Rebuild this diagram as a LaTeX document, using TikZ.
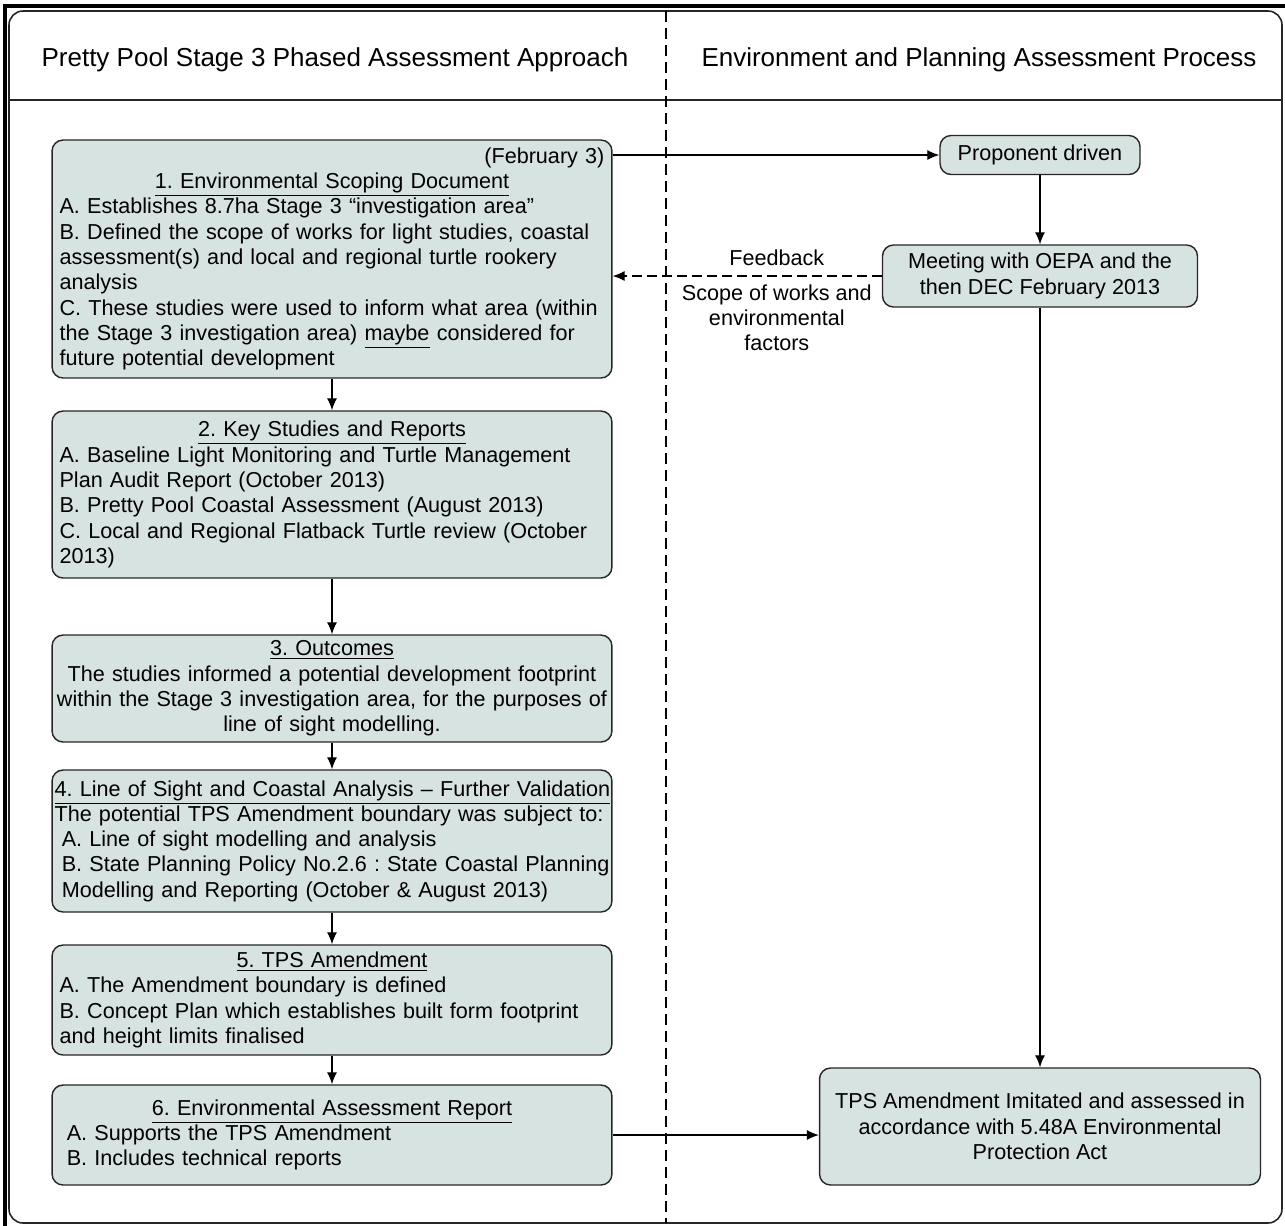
\documentclass[tikz,border=0pt]{standalone}
\usepackage{fontspec}
\setmainfont{Liberation Sans}
\usetikzlibrary{arrows.meta}
\definecolor{boxfill}{RGB}{215,227,225}
\newcommand{\boxfont}{\fontsize{12.3}{14.4}\selectfont}
\frenchspacing
\hyphenpenalty=10000
\exhyphenpenalty=10000
\begin{document}
\begin{tikzpicture}
    [%%%%%%%%%%%%%%%%%%%%%%%%%%%%%%
        x=0.02cm, y=-0.02cm,
        box/.style={rectangle, rounded corners=0.22cm, draw=black!85, line width=0.8pt, fill=boxfill, font=\boxfont, inner xsep=0.15cm, inner ysep=0pt},
        leftbox/.style={box, text width=10.9cm, align=left},
        rightbox/.style={box, align=center},
        heading/.style={font=\fontsize{14.8}{18}\selectfont},
        arr/.style={-{Latex[length=0.24cm,width=0.2cm]}, line width=0.7pt},
    ]%%%%%%%%%%%%%%%%%%%%%%%%%%%%%%
\useasboundingbox (0,0) rectangle (1285,1225);
\clip (0,0) rectangle (1285,1225);
\draw[line width=1.8pt] (5,6) rectangle (1300,1240);
\draw[rounded corners=0.28cm, line width=0.9pt, draw=black!85] (9,11) rectangle (1282,1223);
\draw[line width=0.9pt, draw=black!85] (9,100) -- (1282,100);
\draw[dash pattern=on 0.22cm off 0.12cm, line width=0.7pt] (666,11) -- (666,1223);
\node[heading] (lefthead) at (335,60) {Pretty Pool Stage 3 Phased Assessment Approach};
\node[heading] (righthead) at (979,60) {Environment and Planning Assessment Process};
\node[leftbox, minimum height=4.76cm] (b1) at (332,259) {\hfill(February 3)\\
\hfill\underline{1. Environmental Scoping Document}\hfill\null\\
A. Establishes 8.7ha Stage 3 “investigation area”\\
B. Defined the scope of works for light studies, coastal\\
assessment(s) and local and regional turtle rookery\\
analysis\\
C. These studies were used to inform what area (within\\
the Stage 3 investigation area) \underline{maybe} considered for\\
future potential development};
\node[leftbox, minimum height=3.34cm] (b2) at (332,494.5) {\hfill\underline{2. Key Studies and Reports}\hfill\null\\
A. Baseline Light Monitoring and Turtle Management\\
Plan Audit Report (October 2013)\\
B. Pretty Pool Coastal Assessment (August 2013)\\
C. Local and Regional Flatback Turtle review (October\\
2013)};
\node[box, text width=11.1cm, inner xsep=0.05cm, align=center, minimum height=2.14cm] (b3) at (332,688.5) {\underline{3. Outcomes}\\
The studies informed a potential development footprint\\
within the Stage 3 investigation area, for the purposes of\\
line of sight modelling.};
\node[leftbox, text width=11.1cm, inner xsep=0.05cm, minimum height=2.84cm] (b4) at (332,841) {\underline{4. Line of Sight and Coastal Analysis – Further Validation}\\
The potential TPS Amendment boundary was subject to:\\
\ A. Line of sight modelling and analysis\\
\mbox{\ B. State Planning Policy No.2.6 : State Coastal Planning}\\
\ Modelling and Reporting (October \& August 2013)};
\node[leftbox, minimum height=2.2cm] (b5) at (332,1000) {\hfill\underline{5. TPS Amendment}\hfill\null\\
A. The Amendment boundary is defined\\
B. Concept Plan which establishes built form footprint\\
and height limits finalised};
\node[leftbox, minimum height=2.0cm] (b6) at (332,1135) {\hfill\underline{6. Environmental Assessment Report}\hfill\null\\
\ A. Supports the TPS Amendment\\
\ B. Includes technical reports};
\node[rightbox, minimum width=4.0cm, minimum height=0.78cm] (prop) at (1040,155) {Proponent driven};
\node[rightbox, minimum width=6.3cm, minimum height=1.24cm] (meet) at (1040,276) {Meeting with OEPA and the\\then DEC February 2013};
\node[rightbox, minimum width=8.82cm, minimum height=2.34cm] (fin) at (1040,1126.5) {TPS Amendment Imitated and assessed in\\accordance with 5.48A Environmental\\Protection Act};
\draw[arr] (b1.east |- prop.west) -- (prop.west);
\draw[arr] (prop.south) -- (meet.north);
\draw[arr, dash pattern=on 0.2cm off 0.1cm] (meet.west) -- (meet.west -| b1.east)
    node[pos=0.39, above=0.08cm, font=\boxfont] {Feedback}
    node[pos=0.39, below=0.04cm, font=\boxfont, align=center] {Scope of works and\\environmental\\factors};
\draw[arr] (meet.south) -- (fin.north);
\draw[arr] (b1.south) -- (b2.north);
\draw[arr] (b2.south) -- (b3.north);
\draw[arr] (b3.south) -- (b4.north);
\draw[arr] (b4.south) -- (b5.north);
\draw[arr] (b5.south) -- (b6.north);
\draw[arr] (b6.east) -- (b6.east -| fin.west);
\end{tikzpicture}
\end{document}
